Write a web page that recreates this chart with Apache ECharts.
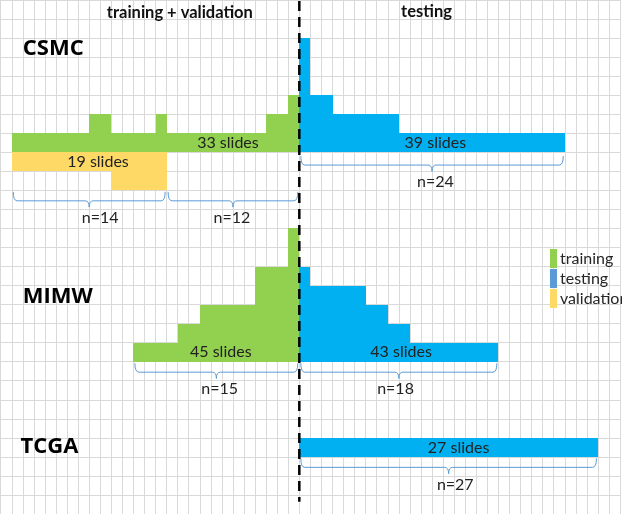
<!DOCTYPE html>
<html><head><meta charset="utf-8">
<script src="https://cdn.jsdelivr.net/npm/echarts@6/dist/echarts.min.js"></script>
<style>html,body{margin:0;padding:0;background:#fff}#c{width:622px;height:514px}</style>
</head><body><div id="c"></div>
<script>
// Slides per patient: one grid column = one patient, one grid row = one slide
const csmcTrain = [1,1,1,1,1,1,1,2,2,1,1,1,1,2,1,1,1,1,1,1,1,1,1,2,2,3];
const csmcVal   = [1,1,1,1,1,1,1,1,1,2,2,2,2,2];
const csmcTest  = [6,3,3,2,2,2,2,2,2,1,1,1,1,1,1,1,1,1,1,1,1,1,1,1];
const mimwTrain = [1,1,1,1,2,2,3,3,3,3,3,5,5,5,7];
const mimwTest  = [5,4,4,4,4,4,3,3,2,2,1,1,1,1,1,1,1,1];
const tcgaTest  = [1,1,1,1,1,1,1,1,1,1,1,1,1,1,1,1,1,1,1,1,1,1,1,1,1,1,1];
const legendNames  = ['training', 'testing', 'validation'];
const datasetNames = ['CSMC', 'MIMW', 'TCGA'];
const headerLabels = ['training + validation', 'testing'];

const COLORS = {training:'#92d050', testing:'#00b0f0', validation:'#ffd966'};
const LEGEND_COLORS = {training:'#92d050', testing:'#5b9bd5', validation:'#ffd966'};
const SPLIT = 27, NCOLS = 56, NROWS = 27;
const BODY_FONT = 'Lato, "Liberation Sans", sans-serif';
const sum = a => a.reduce((s, v) => s + v, 0);

// layout of each block (position in grid cells)
const blocks = [
  {kind:'training',   data:csmcTrain, start:SPLIT - csmcTrain.length, base:8,  dir:1,  lc:20.55, lr:7.5},
  {kind:'validation', data:csmcVal,   start:SPLIT - csmcTrain.length, base:8,  dir:-1, lc:8.8,   lr:8.5},
  {kind:'testing',    data:csmcTest,  start:SPLIT,                    base:8,  dir:1,  lc:39.3,  lr:7.5},
  {kind:'training',   data:mimwTrain, start:SPLIT - mimwTrain.length, base:19, dir:1,  lc:19.9,  lr:18.5},
  {kind:'testing',    data:mimwTest,  start:SPLIT,                    base:19, dir:1,  lc:36.2,  lr:18.5},
  {kind:'testing',    data:tcgaTest,  start:SPLIT,                    base:24, dir:1,  lc:41.4,  lr:23.5}
];
const s0 = SPLIT - csmcTrain.length;
const braces = [
  {x0:s0, x1:s0 + csmcVal.length, base:10, n:csmcVal.length, lc:9.0},
  {x0:s0 + csmcVal.length, x1:SPLIT, base:10, n:csmcTrain.length - csmcVal.length, lc:20.9},
  {x0:SPLIT, x1:SPLIT + csmcTest.length, base:8.12, n:csmcTest.length, lc:39.3},
  {x0:SPLIT - mimwTrain.length, x1:SPLIT, base:19, n:mimwTrain.length, lc:19.8},
  {x0:SPLIT, x1:SPLIT + mimwTest.length, base:19, n:mimwTest.length, lc:35.7},
  {x0:SPLIT, x1:SPLIT + tcgaTest.length, base:24, n:tcgaTest.length, lc:41.1}
];

function barSeries(kind) {
  const items = [];
  blocks.filter(b => b.kind === kind).forEach(b => {
    b.data.forEach((h, i) => items.push([b.start + i, b.base, h, b.dir]));
  });
  return {
    type:'custom', name:kind, z:2, silent:true, itemStyle:{color:LEGEND_COLORS[kind]},
    data:items,
    renderItem(params, api) {
      const col = api.value(0), base = api.value(1), h = api.value(2), dir = api.value(3);
      const p0 = api.coord([col, base]);
      const p1 = api.coord([col + 1, base - dir * h]);
      const x0 = Math.round(Math.min(p0[0], p1[0])), x1 = Math.round(Math.max(p0[0], p1[0]));
      const y0 = Math.round(Math.min(p0[1], p1[1])), y1 = Math.round(Math.max(p0[1], p1[1]));
      return {type:'rect', shape:{x:x0, y:y0, width:x1 - x0, height:y1 - y0}, style:{fill:COLORS[kind]}};
    }
  };
}

function textSeries(items, font, align, color) {
  return {
    type:'custom', silent:true, z:6,
    data:items.map(t => [t.col, t.row]),
    renderItem(params, api) {
      const p = api.coord([api.value(0), api.value(1)]);
      return {type:'text', style:{x:p[0], y:p[1], text:items[params.dataIndex].text,
        align:align, verticalAlign:'middle', font:font, fill:color}};
    }
  };
}

const braceSeries = {
  type:'custom', silent:true, z:4,
  data:braces.map(b => [b.x0, b.x1, b.base]),
  renderItem(params, api) {
    const a = api.coord([api.value(0), api.value(2)]);
    const b = api.coord([api.value(1), api.value(2)]);
    const rowPx = api.size([0, 1])[1];
    const x0 = a[0] + 1.5, x1 = b[0] - 1.5, xc = (a[0] + b[0]) / 2;
    const top = a[1] + 0.08 * rowPx, mid = a[1] + 0.55 * rowPx, tip = a[1] + 0.88 * rowPx;
    const r = 4;
    const d = `M${x0},${top} Q${x0},${mid} ${x0 + r},${mid} L${xc - r},${mid} Q${xc},${mid} ${xc},${tip} ` +
              `Q${xc},${mid} ${xc + r},${mid} L${x1 - r},${mid} Q${x1},${mid} ${x1},${top}`;
    return {type:'path', shape:{pathData:d}, style:{stroke:'#5b9bd5', fill:'none', lineWidth:1}};
  }
};

const dividerSeries = {
  type:'custom', silent:true, z:8,
  data:[[SPLIT, 0.05, 26.35]],
  renderItem(params, api) {
    const a = api.coord([api.value(0), api.value(1)]);
    const b = api.coord([api.value(0), api.value(2)]);
    return {type:'line', shape:{x1:a[0], y1:a[1], x2:b[0], y2:b[1]},
      style:{stroke:'#000', lineWidth:2.5, lineDash:[10, 6]}};
  }
};

const slideLabels = blocks.map(b => ({col:b.lc, row:b.lr, text:sum(b.data) + ' slides'}));
const nLabels = braces.map(b => ({col:b.lc, row:b.base + 1.45, text:'n=' + b.n}));
const titleLabels = [
  {col:2, row:2.57, text:datasetNames[0]},
  {col:2, row:15.6, text:datasetNames[1]},
  {col:1.8, row:23.45, text:datasetNames[2]}
];
const headers = [
  {col:16.2, row:0.68, text:headerLabels[0]},
  {col:38.5, row:0.62, text:headerLabels[1]}
];

const chart = echarts.init(document.getElementById('c'), null, {renderer:'canvas'});
chart.setOption({
  animation:false,
  backgroundColor:'#ffffff',
  grid:{left:0.7, top:0, width:11.06 * NCOLS, height:19.05 * NROWS},
  xAxis:{type:'value', min:0, max:NCOLS, interval:1,
    axisLine:{show:false}, axisTick:{show:false}, axisLabel:{show:false},
    splitLine:{show:true, lineStyle:{color:'#d9d9d9', width:1}}},
  yAxis:{type:'value', min:0, max:NROWS, interval:1, inverse:true,
    axisLine:{show:false}, axisTick:{show:false}, axisLabel:{show:false},
    splitLine:{show:true, lineStyle:{color:'#d9d9d9', width:1}}},
  legend:{orient:'vertical', left:545, top:244, itemWidth:7, itemHeight:19, itemGap:1,
    icon:'rect', selectedMode:false,
    textStyle:{fontFamily:BODY_FONT, fontSize:16, color:'#262626', padding:[0,0,0,-2]},
    data:legendNames.map(n => ({name:n, itemStyle:{color:LEGEND_COLORS[n]}}))},
  series:[
    barSeries('training'), barSeries('testing'), barSeries('validation'),
    braceSeries, dividerSeries,
    textSeries(slideLabels, '16px ' + BODY_FONT, 'center', '#222222'),
    textSeries(nLabels, '16px ' + BODY_FONT, 'center', '#222222'),
    textSeries(titleLabels, 'bold 22px "Open Sans", sans-serif', 'left', '#000000'),
    textSeries(headers, 'bold 16.5px ' + BODY_FONT, 'center', '#111111')
  ]
});
</script>
</body></html>
